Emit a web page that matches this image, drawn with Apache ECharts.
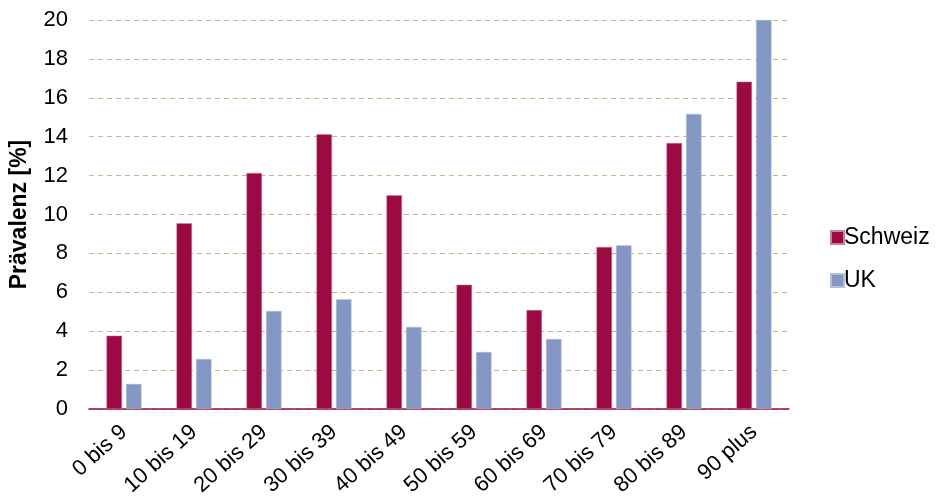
<!DOCTYPE html>
<html>
<head>
<meta charset="utf-8">
<script src="https://cdn.jsdelivr.net/npm/echarts@6/dist/echarts.min.js"></script>
<style>
  html, body { margin: 0; padding: 0; background: #fff; }
  #chart { width: 937px; height: 502px; }
</style>
</head>
<body>
<div id="chart"></div>
<script>
const categories = ['0 bis 9', '10 bis 19', '20 bis 29', '30 bis 39', '40 bis 49',
  '50 bis 59', '60 bis 69', '70 bis 79', '80 bis 89', '90 plus']
const schweiz = [3.77, 9.55, 12.13, 14.12, 10.99, 6.39, 5.09, 8.33, 13.68, 16.83]
const uk = [1.29, 2.57, 5.04, 5.64, 4.22, 2.93, 3.6, 8.42, 15.17, 20.0]
const seriesNames = ['Schweiz', 'UK']

const chart = echarts.init(document.getElementById('chart'))
const font = '"Liberation Sans", Arial, sans-serif'

chart.setOption({
  animation: false,
  textStyle: { fontFamily: font },
  grid: { left: 89, right: 148, top: 20, bottom: 93 },
  legend: {
    orient: 'vertical',
    left: 825,
    top: 221,
    itemWidth: 13,
    itemHeight: 13,
    itemGap: 20,
    icon: 'rect',
    textStyle: { color: '#000', fontSize: 23, fontFamily: font, padding: [0, 0, 0, -5] },
    data: seriesNames
  },
  xAxis: {
    type: 'category',
    data: categories,
    axisLine: { lineStyle: { color: '#9b0a42', width: 1.5 } },
    axisTick: { show: false },
    axisLabel: {
      rotate: 42,
      color: '#000',
      fontSize: 22,
      fontFamily: font,
      margin: 20,
      interval: 0
    }
  },
  yAxis: {
    type: 'value',
    min: 0,
    max: 20,
    interval: 2,
    name: 'Prävalenz [%]',
    nameLocation: 'middle',
    nameGap: 58,
    nameTextStyle: { color: '#000', fontSize: 23, fontWeight: 'bold', fontFamily: font },
    axisLine: { show: false },
    axisTick: { show: false },
    axisLabel: { color: '#000', fontSize: 22, fontFamily: font, margin: 21 },
    splitLine: { lineStyle: { color: '#d2b27c', type: [5, 4], width: 1 } }
  },
  series: [
    {
      name: seriesNames[0],
      type: 'bar',
      data: schweiz,
      barWidth: 15.5,
      barGap: '26%',
      itemStyle: { color: '#9b0a42', borderColor: '#c8819c', borderWidth: 0.5 }
    },
    {
      name: seriesNames[1],
      type: 'bar',
      data: uk,
      barWidth: 15.5,
      barGap: '26%',
      itemStyle: { color: '#8497c4', borderColor: '#b3c0dc', borderWidth: 0.5 }
    }
  ]
})
window.addEventListener('resize', () => chart.resize())
</script>
</body>
</html>
